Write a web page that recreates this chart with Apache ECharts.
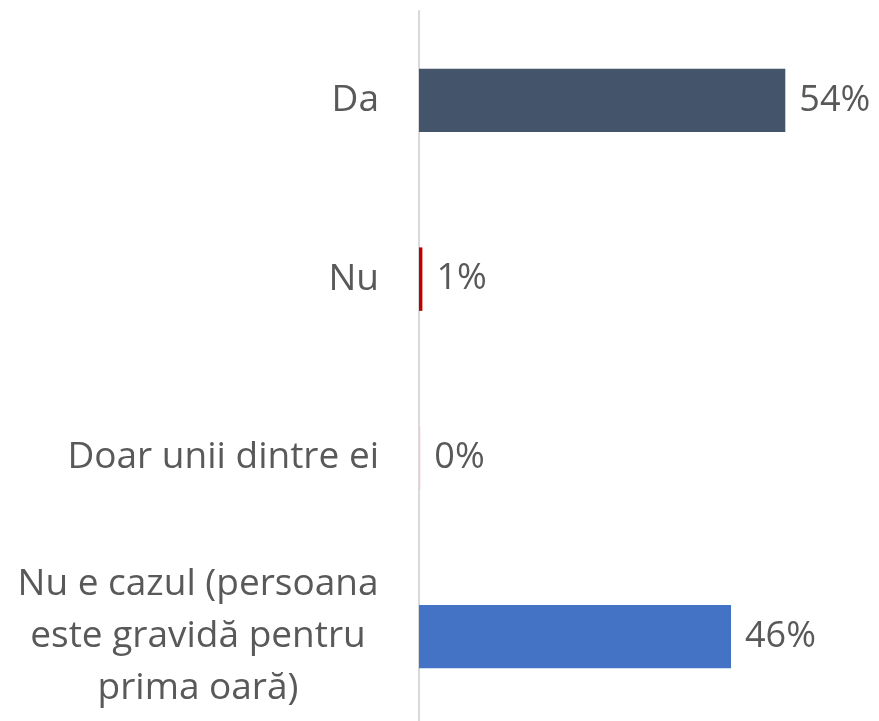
<!DOCTYPE html>
<html><head><meta charset="utf-8">
<script src="https://cdn.jsdelivr.net/npm/echarts@6/dist/echarts.min.js"></script>
<style>html,body{margin:0;padding:0;background:#fff;overflow:hidden}#c{width:879px;height:740px}</style>
</head><body><div id="c"></div>
<script>
const categories = ['Da', 'Nu', 'Doar unii dintre ei', 'Nu e cazul (persoana\neste gravidă pentru\nprima oară)'];
const values = [54, 0.5, 0.2, 46];
const colors = ['#44546A', '#C00000', '#F4CCCC', '#4472C4'];

const chart = echarts.init(document.getElementById('c'));
const FONT = 'Open Sans';
const FS = 37;
chart.setOption({
  animation: false,
  grid: { left: 419, top: 11, height: 715, width: 407, containLabel: false },
  xAxis: { type: 'value', min: 0, max: 60, show: false },
  yAxis: {
    type: 'category', inverse: true, data: categories,
    axisLine: { show: true, lineStyle: { color: '#d9d9d9', width: 2 } },
    axisTick: { show: false },
    axisLabel: {
      margin: 40, color: '#595959', fontFamily: FONT, fontSize: FS, lineHeight: 52,
      formatter: function (v) {
        if (v.indexOf('\n') >= 0) return v.split('\n').map(s => '{c|' + s + '}').join('\n');
        return v;
      },
      rich: { c: { width: 362, align: 'center', color: '#595959', fontFamily: FONT, fontSize: FS, lineHeight: 52 } }
    }
  },
  series: [{
    type: 'bar', barWidth: '35.5%',
    data: values.map((v, i) => ({ value: v, itemStyle: { color: colors[i] } })),
    label: {
      show: true, position: 'right', distance: 14, color: '#595959', fontFamily: FONT, fontSize: 36,
      formatter: p => Math.round(p.value) + '%'
    }
  }]
});
</script></body></html>
